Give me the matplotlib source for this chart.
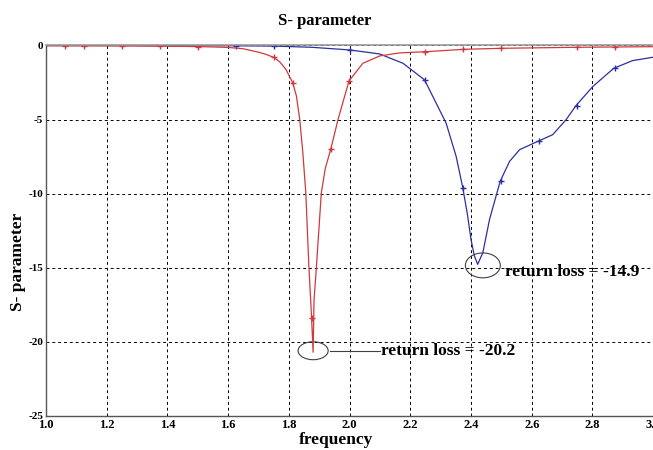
import matplotlib.pyplot as plt
import matplotlib.patches as patches

# red trace (S11, lower band)
red_freq = [1.0, 1.25, 1.5, 1.6, 1.65, 1.7, 1.725, 1.75, 1.77, 1.79, 1.8125,
            1.825, 1.836, 1.846, 1.856, 1.866, 1.872, 1.875, 1.880, 1.883,
            1.891, 1.907, 1.92, 1.938, 1.962, 1.998, 2.044, 2.1, 2.165,
            2.25, 2.375, 2.5, 2.75, 3.0]
red_s = [-0.02, -0.03, -0.07, -0.13, -0.22, -0.45, -0.6, -0.8, -1.1, -1.6, -2.5,
         -3.4, -5.0, -7.2, -9.95, -14.9, -17.2, -18.4, -20.7, -17.2,
         -14.9, -9.95, -8.3, -7.0, -5.0, -2.4, -1.2, -0.7, -0.5,
         -0.42, -0.26, -0.19, -0.12, -0.08]
red_mark_freq = [1.0625, 1.125, 1.25, 1.375, 1.5, 1.75, 1.8125, 1.875, 1.938,
                 1.998, 2.25, 2.375, 2.5, 2.75, 2.875]
red_mark_s = [-0.02, -0.02, -0.03, -0.04, -0.07, -0.8, -2.5, -18.4, -7.0,
              -2.4, -0.42, -0.26, -0.19, -0.12, -0.1]

# blue trace (upper band)
blue_freq = [1.0, 1.25, 1.5, 1.625, 1.75, 1.875, 2.0, 2.099, 2.176, 2.247,
             2.318, 2.351, 2.373, 2.389, 2.400, 2.411, 2.422, 2.439, 2.461,
             2.496, 2.527, 2.560, 2.620, 2.669, 2.713, 2.746, 2.801, 2.870,
             2.932, 3.0]
blue_s = [0.0, 0.0, -0.01, -0.02, -0.04, -0.12, -0.3, -0.57, -1.2, -2.32,
          -5.24, -7.48, -9.61, -11.5, -13.09, -14.2, -14.77, -13.98, -11.74,
          -9.17, -7.82, -7.03, -6.47, -6.02, -5.01, -4.05, -2.77, -1.54,
          -1.02, -0.79]
blue_mark_freq = [1.625, 1.75, 2.0, 2.25, 2.375, 2.5, 2.625, 2.75, 2.875]
blue_mark_s = [-0.02, -0.04, -0.3, -2.32, -9.61, -9.17, -6.47, -4.05, -1.54]

x_ticks = [1.0, 1.2, 1.4, 1.6, 1.8, 2.0, 2.2, 2.4, 2.6, 2.8, 3.0]
y_ticks = [0, -5, -10, -15, -20, -25]

RED = "#d0393b"
BLUE = "#2c2fa0"
SERIF = "Liberation Serif"

fig = plt.figure(figsize=(6.53, 4.5), dpi=100)
ax = fig.add_axes([0.0703, 0.0757, 0.93, 0.8232])

ax.plot(blue_freq, blue_s, color=BLUE, linewidth=0.9)
ax.plot(blue_mark_freq, blue_mark_s, "+", color=BLUE, markersize=5, markeredgewidth=1)
ax.plot(red_freq, red_s, color=RED, linewidth=0.9)
ax.plot(red_mark_freq, red_mark_s, "+", color=RED, markersize=5, markeredgewidth=1)

ax.set_xlim(1.0, 3.0)
ax.set_ylim(-25, 0)
ax.set_xticks(x_ticks)
ax.set_yticks(y_ticks)
ax.set_xticklabels([f"{v:.1f}" for v in x_ticks], fontfamily=SERIF,
                   fontweight="bold", fontsize=9)
ax.set_yticklabels([str(v) for v in y_ticks], fontfamily=SERIF,
                   fontweight="bold", fontsize=8)
ax.tick_params(axis="x", length=0, pad=2)
ax.tick_params(axis="y", length=0, pad=2)

ax.grid(True, color="black", linestyle=(0, (3, 3)), linewidth=0.7)
ax.set_axisbelow(True)

for side in ["left", "bottom"]:
    ax.spines[side].set_color("#555555")
    ax.spines[side].set_linewidth(1.0)
ax.spines["top"].set_color("#999999")
ax.spines["top"].set_linewidth(1.2)
ax.spines["right"].set_visible(False)

# annotations
ax.add_patch(patches.Ellipse((1.880, -20.6), 0.099, 1.21, fill=False,
                             edgecolor="#404040", linewidth=0.8))
ax.plot([1.935, 2.100], [-20.6, -20.6], color="#404040", linewidth=0.8)
ax.text(2.105, -20.6, "return loss = -20.2", fontfamily=SERIF,
        fontweight="bold", fontsize=12.5, va="center", ha="left")

ax.add_patch(patches.Ellipse((2.439, -14.84), 0.115, 1.68, fill=False,
                             edgecolor="#404040", linewidth=0.8))
ax.text(2.513, -15.29, "return loss = -14.9", fontfamily=SERIF,
        fontweight="bold", fontsize=12.5, va="center", ha="left")

fig.text(325 / 653, 1 - 21 / 450, "S- parameter", fontfamily=SERIF,
         fontweight="bold", fontsize=12, ha="center", va="center")
fig.text(336 / 653, 1 - 440 / 450, "frequency", fontfamily=SERIF,
         fontweight="bold", fontsize=12.5, ha="center", va="center")
fig.text(18 / 653, 1 - 262 / 450, "S- parameter", fontfamily=SERIF,
         fontweight="bold", fontsize=12.5, ha="center", va="center",
         rotation=90)

fig.savefig("out.png", dpi=100)
